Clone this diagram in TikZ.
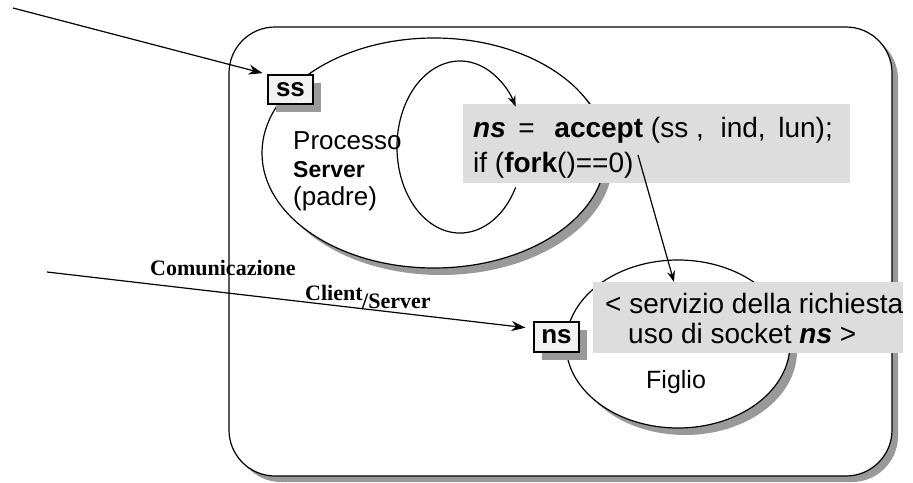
\documentclass[tikz,border=0pt]{standalone}
\usepackage{fontspec}
\setmainfont{Liberation Sans}
\newfontfamily\timesfont{Liberation Serif}
\usetikzlibrary{arrows.meta,shapes.geometric,shadows}

\definecolor{shadowgray}{HTML}{999999}
\definecolor{codegray}{HTML}{DDDDDD}
\definecolor{boxwhite}{HTML}{F2F2F2}

\tikzset{
  line/.style={line width=1.2pt},
  shadowed/.style={drop shadow={shadow xshift=#1,shadow yshift=-#1,fill=shadowgray,opacity=1}},
  proc/.style={ellipse, draw, line width=1.2pt, fill=white, inner sep=0pt, shadowed=7pt},
  sock/.style={rectangle, draw, line width=1.2pt, fill=boxwhite, inner sep=0pt,
    font=\fontsize{26}{30}\selectfont\bfseries, minimum width=45pt, minimum height=29pt,
    shadowed=8pt},
  codebox/.style={rectangle, fill=codegray, inner sep=0pt, anchor=north west},
  txt/.style={anchor=base west, inner sep=0pt, font=\fontsize{28}{34}\selectfont},
  lbl/.style={anchor=base west, inner sep=0pt, font=\fontsize{26}{30}\selectfont},
  comm/.style={anchor=base west, inner sep=0pt, font=\timesfont\bfseries\fontsize{22}{26}\selectfont},
  bigarrow/.style={line width=1.2pt, -{Stealth[length=14pt,width=10pt]}},
  smallarrow/.style={line width=1.2pt, -{Stealth[length=11pt,width=8pt]}},
}

\begin{document}
\begin{tikzpicture}[x=1pt,y=-1pt]
\useasboundingbox (0,0) rectangle (913,482);

% host machine
\node[draw, line width=1.2pt, fill=white, rounded corners=46pt, inner sep=0pt,
      minimum width=663pt, minimum height=449pt, shadowed=6pt] (host) at (560.5,251.5) {};

% parent server process
\node[proc, minimum width=344pt, minimum height=230pt] (server) at (434,153) {};
\node[sock] (ss) at (290.5,89.5) {ss};
\node[lbl] (proc) at (293,149) {Processo};
\node[lbl, font=\fontsize{23}{27}\selectfont\bfseries] (srv) at (293,177) {Server};
\node[lbl] (padre) at (293,205) {(padre)};

% accept loop
\coordinate (loopstart) at (515.6,187.4);

% child process
\node[proc, minimum width=224pt, minimum height=168pt] (child) at (678,344) {};
\node[sock, minimum height=30pt] (ns) at (556.5,337) {ns};
\node[lbl, font=\fontsize{25}{29}\selectfont] (figlio) at (646,388) {Figlio};

% code executed by the server
\node[codebox, minimum width=387pt, minimum height=79pt] (acc) at (463,104) {};
\draw[smallarrow] (loopstart) arc[start angle=28, end angle=332, x radius=63, y radius=86];
\node[txt] (acc1) at (473,137) {\textbf{\textit{ns}}\hspace{0.45em}=\hspace{0.7em}\textbf{accept} (ss ,\hspace{0.6em}ind,\hspace{0.45em}lun);};
\node[txt] (acc2) at (473,172) {if (\textbf{fork}()==0)};

% service performed by the child
\node[codebox, minimum width=310pt, minimum height=71pt] (serv) at (593,282) {};
\node[txt] (serv1) at (605,313) {< servizio della richiesta};
\node[txt] (serv2) at (628,343) {uso di socket \textbf{\textit{ns}} >};

% client/server communication label
\node[comm] (com) at (150,275) {Comunicazione};
\node[comm] (cli) at (305,300) {Client};
\node[comm] (slash) at (362,308) {/Server};

% connectors
\coordinate (conn) at (13,8);
\coordinate (client) at (47,272);
\coordinate (forkout) at (638,155);
\coordinate (childin) at (674,282);
\draw[bigarrow, shorten >=5pt] (conn) -- (ss.north west);
\draw[bigarrow, shorten >=8pt] (client) -- (ns.160);
\draw[smallarrow] (forkout) -- (childin);
\end{tikzpicture}
\end{document}
